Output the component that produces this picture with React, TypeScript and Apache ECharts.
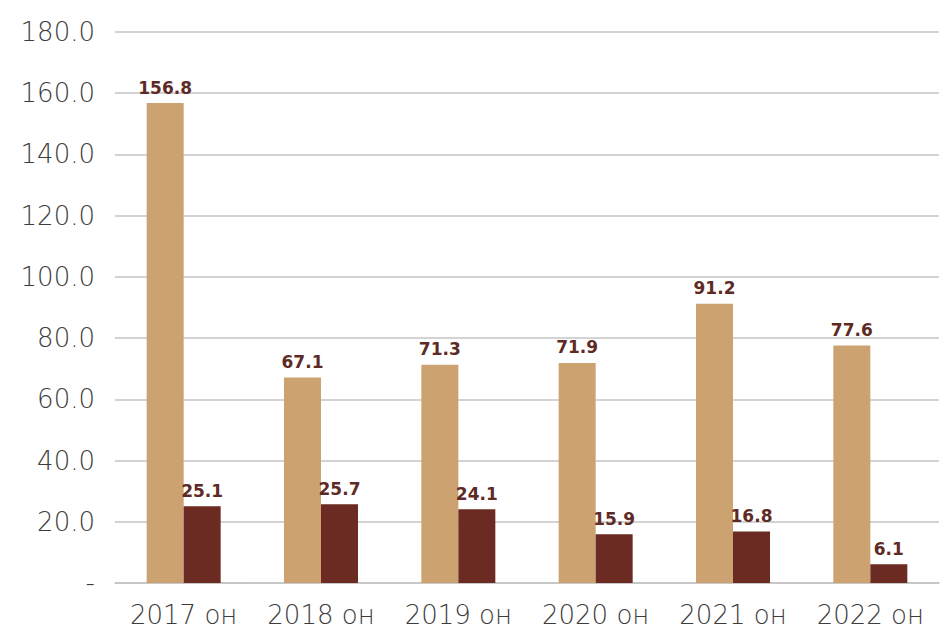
import React, { useEffect, useRef } from "react";
import * as echarts from "echarts";

const categories = ["2017 он", "2018 он", "2019 он", "2020 он", "2021 он", "2022 он"];
const seriesA = [156.8, 67.1, 71.3, 71.9, 91.2, 77.6];
const seriesB = [25.1, 25.7, 24.1, 15.9, 16.8, 6.1];
const yMin = 0;
const yMax = 180;
const yInterval = 20;

export default function App() {
  const ref = useRef<HTMLDivElement>(null);
  useEffect(() => {
    if (!ref.current) return;
    const chart = echarts.init(ref.current, undefined, { renderer: "svg" });
    const labelStyle = {
      show: true,
      position: "top" as const,
      distance: 7,
      color: "#5e2a25",
      fontFamily: "DejaVu Sans",
      fontWeight: "bold" as const,
      fontSize: 17,
      formatter: (p: any) => Number(p.value).toFixed(1),
    };
    chart.setOption({
      animation: false,
      backgroundColor: "#ffffff",
      grid: { left: 115, right: 4, top: 32, bottom: 50, containLabel: false },
      xAxis: {
        type: "category",
        data: categories,
        axisLine: { show: true, lineStyle: { color: "#c4c4c4", width: 1.5 } },
        axisTick: { show: false },
        axisLabel: {
          interval: 0,
          hideOverlap: false,
          color: "#3c3c3c",
          fontFamily: "DejaVu Sans",
          fontWeight: 200,
          fontSize: 26,
          margin: 19,
        },
      },
      yAxis: {
        type: "value",
        min: yMin,
        max: yMax,
        interval: yInterval,
        axisLine: { show: false },
        axisTick: { show: false },
        splitLine: { lineStyle: { color: "#c4c4c4", width: 1.5 } },
        axisLabel: {
          color: "#3c3c3c",
          fontFamily: "DejaVu Sans",
          fontWeight: 200,
          fontSize: 26,
          margin: 20,
          formatter: (v: number) => (v === 0 ? "-" : v.toFixed(1)),
        },
      },
      series: [
        {
          type: "bar",
          data: seriesA,
          barWidth: 37,
          barGap: "0%",
          itemStyle: { color: "#cca370" },
          label: labelStyle,
        },
        {
          type: "bar",
          data: seriesB,
          barWidth: 37,
          barGap: "0%",
          itemStyle: { color: "#6b2a22" },
          label: labelStyle,
        },
      ],
    });
    return () => chart.dispose();
  }, []);
  return (
    <div
      ref={ref}
      style={{ position: "fixed", left: 0, top: 0, width: 943, height: 633 }}
    />
  );
}
